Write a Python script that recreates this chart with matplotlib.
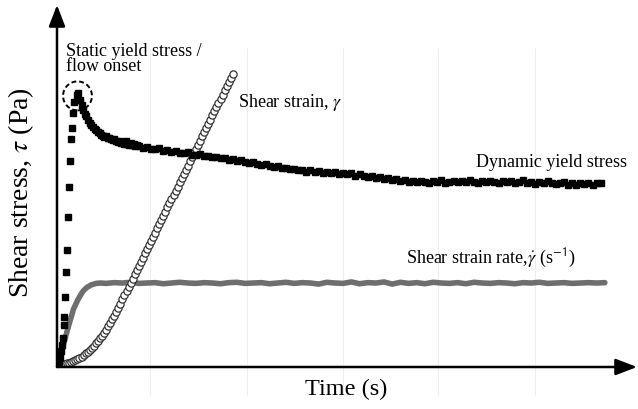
import matplotlib
matplotlib.use("Agg")
import matplotlib.pyplot as plt
from matplotlib.patches import Ellipse
import numpy as np

plt.rcParams["font.family"] = ["Liberation Serif", "DejaVu Serif"]
plt.rcParams["mathtext.fontset"] = "stix"

# --- shear stress (Pa): fast rise to the static yield peak, then decay ---
rise_t = [0.0, 0.42, 0.55, 0.73, 0.86, 1.05, 1.23, 1.34, 1.52, 1.65, 1.78,
          2.02, 2.20, 2.38, 2.57, 2.75, 2.88, 3.20, 3.58, 3.85]
rise_tau = [0.4, 1.1, 2.8, 4.4, 6.1, 8.0, 11.6, 13.8, 19.3, 26.2, 32.3,
            41.4, 49.7, 56.9, 63.0, 66.0, 70.2, 73.2, 75.1, 75.7]

# after the peak, sampled every 0.3 s from 4.2 s
early_tau = [73.8, 72.3, 71.0, 70.0, 69.2, 68.3, 67.5, 66.8, 66.3, 65.7,
             65.4, 64.9, 64.6, 64.1, 63.9, 63.6, 63.7, 63.2, 63.3, 62.9,
             62.6, 62.9, 62.4, 62.2, 62.5, 61.9, 62.1, 61.7, 62.3, 61.6,
             61.4, 61.8, 61.2, 61.5, 61.0, 61.2]

# dynamic part, sampled every 0.75 s from 15 s
late_tau = [61.0, 60.6, 60.9, 60.3, 60.1, 60.5, 59.8, 59.9, 59.4, 59.7,
            59.2, 59.0, 59.4, 58.7, 58.5, 58.9, 58.2, 58.4, 57.9, 58.1,
            57.6, 57.8, 57.2, 57.4, 56.9, 57.1, 56.6, 56.3, 56.7, 56.0,
            55.8, 56.1, 55.5, 55.2, 55.6, 54.9, 55.0, 54.6, 54.8, 54.3,
            54.5, 54.0, 54.3, 53.8, 54.2, 53.7, 53.9, 53.5, 54.0, 53.4,
            53.6, 53.2, 53.5, 52.9, 53.3, 52.8, 52.5, 52.9, 52.2, 52.4,
            51.9, 52.2, 51.6, 51.8, 51.3, 51.7, 51.2, 51.5, 51.0, 51.4,
            51.1, 50.8, 51.3, 51.0, 51.6, 50.9, 51.2, 51.5, 51.0, 51.4,
            51.1, 51.6, 51.2, 50.9, 51.4, 51.0, 51.5, 51.2, 50.8, 51.3,
            51.0, 51.5, 50.9, 51.2, 51.6, 50.8, 51.1, 50.6, 51.0, 50.7,
            51.3, 50.9, 50.5, 50.8, 51.2, 50.4, 50.7, 50.3, 50.8, 50.5,
            50.9, 50.4, 50.7, 50.9]

# --- shear strain rate: ramp then plateau (every 1.5 s from 9 s) ---
rate_rise_t = [0.0, 0.3, 0.6, 0.9, 1.2, 1.5, 1.8, 2.1, 2.4, 2.7,
               3.0, 3.4, 3.8, 4.3, 4.8, 5.5, 6.3, 7.2, 8.0]
rate_rise = [0.5, 1.5, 2.8, 4.5, 6.3, 8.0, 9.6, 11.2, 12.8, 14.3,
             15.9, 17.2, 18.5, 19.8, 21.0, 22.0, 22.7, 23.1, 23.2]
rate_plateau = [23.1, 23.3, 23.2, 23.4, 23.1, 23.2, 23.3, 23.0, 23.2, 23.4,
                23.2, 23.1, 23.3, 23.2, 23.0, 23.3, 23.4, 23.1, 23.2, 23.3,
                23.0, 23.2, 23.4, 23.1, 23.3, 23.2, 22.9, 23.4, 23.2, 23.1,
                23.5, 23.0, 23.3, 23.2, 23.5, 22.9, 23.4, 23.1, 23.3, 23.0,
                23.4, 23.2, 23.1, 23.3, 23.0, 23.4, 23.2, 23.1, 23.3, 23.2,
                23.0, 23.3, 23.2, 23.4, 23.1, 23.2, 23.3, 23.1, 23.2, 23.3,
                23.2, 23.3]

# --- shear strain, every 0.375 s ---
strain = [0.50, 0.58, 0.65, 0.72, 0.80, 0.99, 1.18, 1.36, 1.55, 1.89,
          2.23, 2.56, 2.90, 3.35, 3.80, 4.25, 4.70, 5.30, 5.90, 6.50,
          7.10, 7.89, 8.68, 9.46, 10.25, 11.2, 12.2, 13.2, 14.15, 15.3,
          16.4, 17.5, 18.65, 19.8, 21.0, 22.1, 23.3, 24.4, 25.6, 26.7,
          27.9, 29.0, 30.2, 31.4, 32.5, 33.7, 34.8, 36.0, 37.1, 38.3,
          39.4, 40.6, 41.7, 42.9, 44.1, 45.2, 46.4, 47.5, 48.7, 49.8,
          51.0, 52.1, 53.3, 54.4, 55.6, 56.8, 57.9, 59.1, 60.2, 61.4,
          62.5, 63.7, 64.8, 66.0, 67.2, 68.3, 69.5, 70.6, 71.8, 72.9,
          74.1, 75.2, 76.4, 77.6, 78.7, 79.9, 81.0]

grid_t = [17.05, 34.84, 52.45, 69.87, 87.66]

stress_t = np.concatenate([rise_t,
                           4.2 + 0.3 * np.arange(len(early_tau)),
                           15.0 + 0.75 * np.arange(len(late_tau))])
stress = np.concatenate([rise_tau, early_tau, late_tau])
rate_t = np.concatenate([rate_rise_t, 9.0 + 1.5 * np.arange(len(rate_plateau))])
rate = np.concatenate([rate_rise, rate_plateau])
strain_t = 0.375 * np.arange(len(strain))

fig = plt.figure(figsize=(6.38, 4.09), dpi=100)
ax = fig.add_axes([57 / 638, 42 / 409, 580 / 638, 362 / 409])
ax.set_xlim(0, 106.4)
ax.set_ylim(0, 100)
ax.axis("off")

# faint vertical guides
ax.vlines(grid_t, -7.7, 88, color="#eeeeee", lw=0.8, clip_on=False, zorder=0)

ax.plot(rate_t, rate, color="#6e6e6e", lw=4.0, solid_capstyle="round",
        solid_joinstyle="round", zorder=2)
ax.plot(strain_t, strain, ls="none", marker="o", ms=5.2, mfc="white",
        mec="#333333", mew=0.9, zorder=3)
ax.plot(stress_t, stress, ls="none", marker="s", ms=3.9, color="black", zorder=4)

ax.add_patch(Ellipse((3.76, 74.9), 5.3, 8.0, fill=False, ls=(0, (2.5, 1.5)),
                     lw=1.4, color="black", zorder=5))

# axes with arrow heads
arrow = dict(arrowstyle="-|>,head_length=1.3,head_width=0.5", lw=1.8,
             color="black", shrinkA=0, shrinkB=0)
ax.annotate("", xy=(0, 1.0), xytext=(0, 0), xycoords="axes fraction",
            arrowprops=arrow, annotation_clip=False)
ax.annotate("", xy=(1.0, 0), xytext=(0, 0), xycoords="axes fraction",
            arrowprops=arrow, annotation_clip=False)

ax.text(1.65, 89.5, "Static yield stress /\nflow onset", fontsize=13,
        va="top", ha="left", linespacing=0.85)
ax.text(33.2, 71.8, r"Shear strain, $\gamma$", fontsize=13, va="baseline")
ax.text(104.5, 55.2, "Dynamic yield stress", fontsize=13, va="baseline", ha="right")
ax.text(64.0, 29.0, r"Shear strain rate,$\dot{\gamma}$ (s$^{\mathsf{-1}}$)", fontsize=13,
        va="baseline")

fig.text(346 / 638, 1 - 389 / 409, "Time (s)", fontsize=17.5, ha="center", va="center")
fig.text(21 / 638, 1 - 193 / 409, r"Shear stress, $\tau$ (Pa)", fontsize=20,
         rotation=90, ha="center", va="center")

fig.savefig("out.png", dpi=100)
